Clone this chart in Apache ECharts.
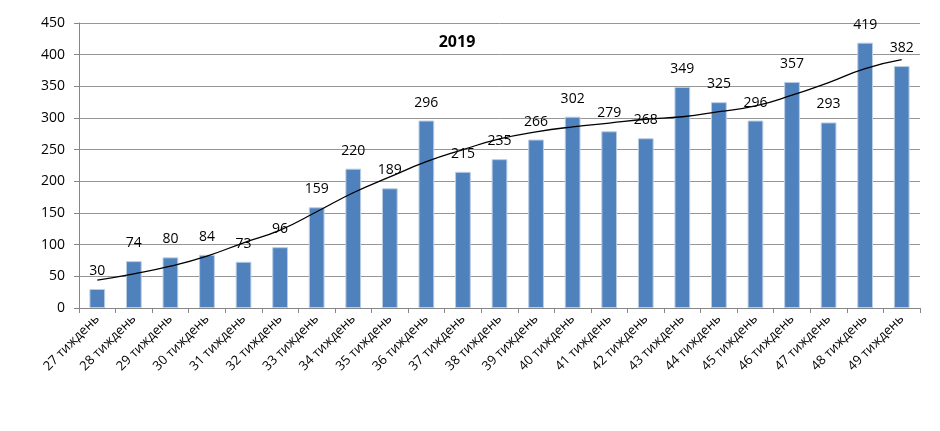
<!DOCTYPE html>
<html><head><meta charset="utf-8">
<script src="https://cdn.jsdelivr.net/npm/echarts@6/dist/echarts.min.js"></script>
<style>html,body{margin:0;padding:0;background:#fff}#c{width:940px;height:431px}</style>
</head><body><div id="c"></div>
<script>
const categories = ["27 тиждень","28 тиждень","29 тиждень","30 тиждень","31 тиждень","32 тиждень","33 тиждень","34 тиждень","35 тиждень","36 тиждень","37 тиждень","38 тиждень","39 тиждень","40 тиждень","41 тиждень","42 тиждень","43 тиждень","44 тиждень","45 тиждень","46 тиждень","47 тиждень","48 тиждень","49 тиждень"];
const values = [30,74,80,84,73,96,159,220,189,296,215,235,266,302,279,268,349,325,296,357,293,419,382];
const trend = [44,54,66,82,103,123,152,182,207,231,250,267,278,286,292,298,302,310,319,336,356,378,392];
const title = "2019";
const font = "'Open Sans', 'DejaVu Sans', sans-serif";
const chart = echarts.init(document.getElementById('c'), null, {renderer:'canvas'});
chart.setOption({
  animation:false,
  title:{text:title,left:452,top:29,textAlign:'center',textStyle:{fontFamily:font,fontSize:16,fontWeight:'bold',color:'#000'}},
  grid:{left:79,right:20,top:23,bottom:123,containLabel:false},
  xAxis:{type:'category',data:categories,
    axisLine:{lineStyle:{color:'#868686',width:1}},
    axisTick:{show:true,alignWithLabel:false,length:5,lineStyle:{color:'#868686'}},
    axisLabel:{rotate:45,interval:0,fontFamily:font,fontSize:13,color:'#000',margin:9}},
  yAxis:{type:'value',min:0,max:450,interval:50,
    axisLine:{show:true,lineStyle:{color:'#868686'}},
    axisTick:{show:true,length:5,lineStyle:{color:'#868686'}},
    splitLine:{lineStyle:{color:'#969696',width:1}},
    axisLabel:{fontFamily:font,fontSize:14,color:'#000',margin:14}},
  series:[
    {type:'bar',data:values,barCategoryGap:'57%',
     itemStyle:{color:'#4F81BD',borderColor:'#B9CDE5',borderWidth:1},
     label:{show:true,position:'top',distance:11,fontFamily:font,fontSize:14,color:'#000'}},
    {type:'line',data:trend,smooth:true,showSymbol:false,symbol:'none',
     lineStyle:{color:'#000',width:1.3},z:5}
  ]
});
</script></body></html>
